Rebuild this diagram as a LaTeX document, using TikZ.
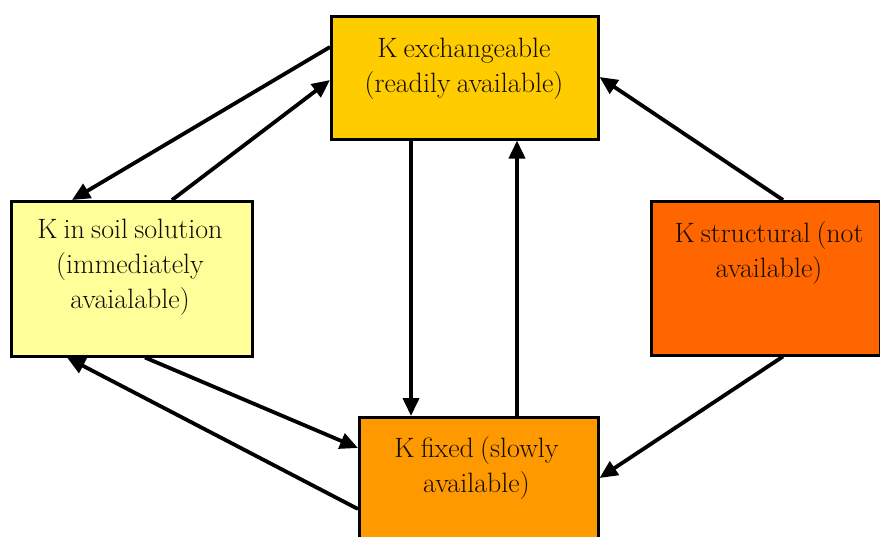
\documentclass[tikz,border=0pt]{standalone}
\usepackage{fontspec}
\usetikzlibrary{arrows.meta}
\definecolor{exfill}{HTML}{FFCC00}
\definecolor{sofill}{HTML}{FFFF99}
\definecolor{stfill}{HTML}{FF6600}
\definecolor{fxfill}{HTML}{FF9900}
\newcommand{\myboxfont}{\fontsize{28}{35}\selectfont\spaceskip=0.22em plus 0.1em minus 0.05em\relax}
\tikzset{
  box/.style={draw=black, line width=2.5pt, minimum width=#1, inner sep=0pt, anchor=north west},
  boxtext/.style={align=center, inner sep=0pt, anchor=north, text=black!90!brown,
    font=\myboxfont},
  flow/.style={line width=3.8pt, -{Triangle[length=18pt,width=16pt]}}
}
\begin{document}
\begin{tikzpicture}[x=1pt,y=-1pt]
\useasboundingbox (0,0) rectangle (880,536);
% boxes
\node[box=267pt, minimum height=123pt, fill=exfill] (ex) at (330,15) {};
\node[box=241pt, minimum height=155pt, fill=sofill] (so) at (10,200) {};
\node[box=229pt, minimum height=154pt, fill=stfill] (st) at (650,200) {};
\node[box=239pt, minimum height=135pt, fill=fxfill] (fx) at (358,416) {};
% texts
\node[boxtext] (exT) at (464,37.5) {K exchangeable\\(readily available)};
\node[boxtext] (soT) at (130,218.5) {K in soil solution\\(immediately\\avaialable)};
\node[boxtext] (stT) at (769,221) {K structural (not\\available)};
\node[boxtext] (fxT) at (476.5,436) {K fixed (slowly\\available)};
% connectors
\draw[flow] ([yshift=-32pt]ex.north west) -- ([xshift=62pt]so.north west);
\draw[flow] ([xshift=162pt]so.north west) -- ([yshift=-65pt]ex.north west);
\draw[flow] ([xshift=81pt]ex.south west) -- ([xshift=53pt]fx.north west);
\draw[flow] ([xshift=159pt]fx.north west) -- ([xshift=187pt]ex.south west);
\draw[flow] ([xshift=133pt]st.north west) -- ([yshift=-62pt]ex.north east);
\draw[flow] ([xshift=133pt]st.south west) -- ([yshift=-62pt]fx.north east);
\draw[flow] ([xshift=135pt]so.south west) -- ([yshift=-32pt]fx.north west);
\draw[flow] ([yshift=-93pt]fx.north west) -- ([xshift=57pt]so.south west);
\end{tikzpicture}
\end{document}
